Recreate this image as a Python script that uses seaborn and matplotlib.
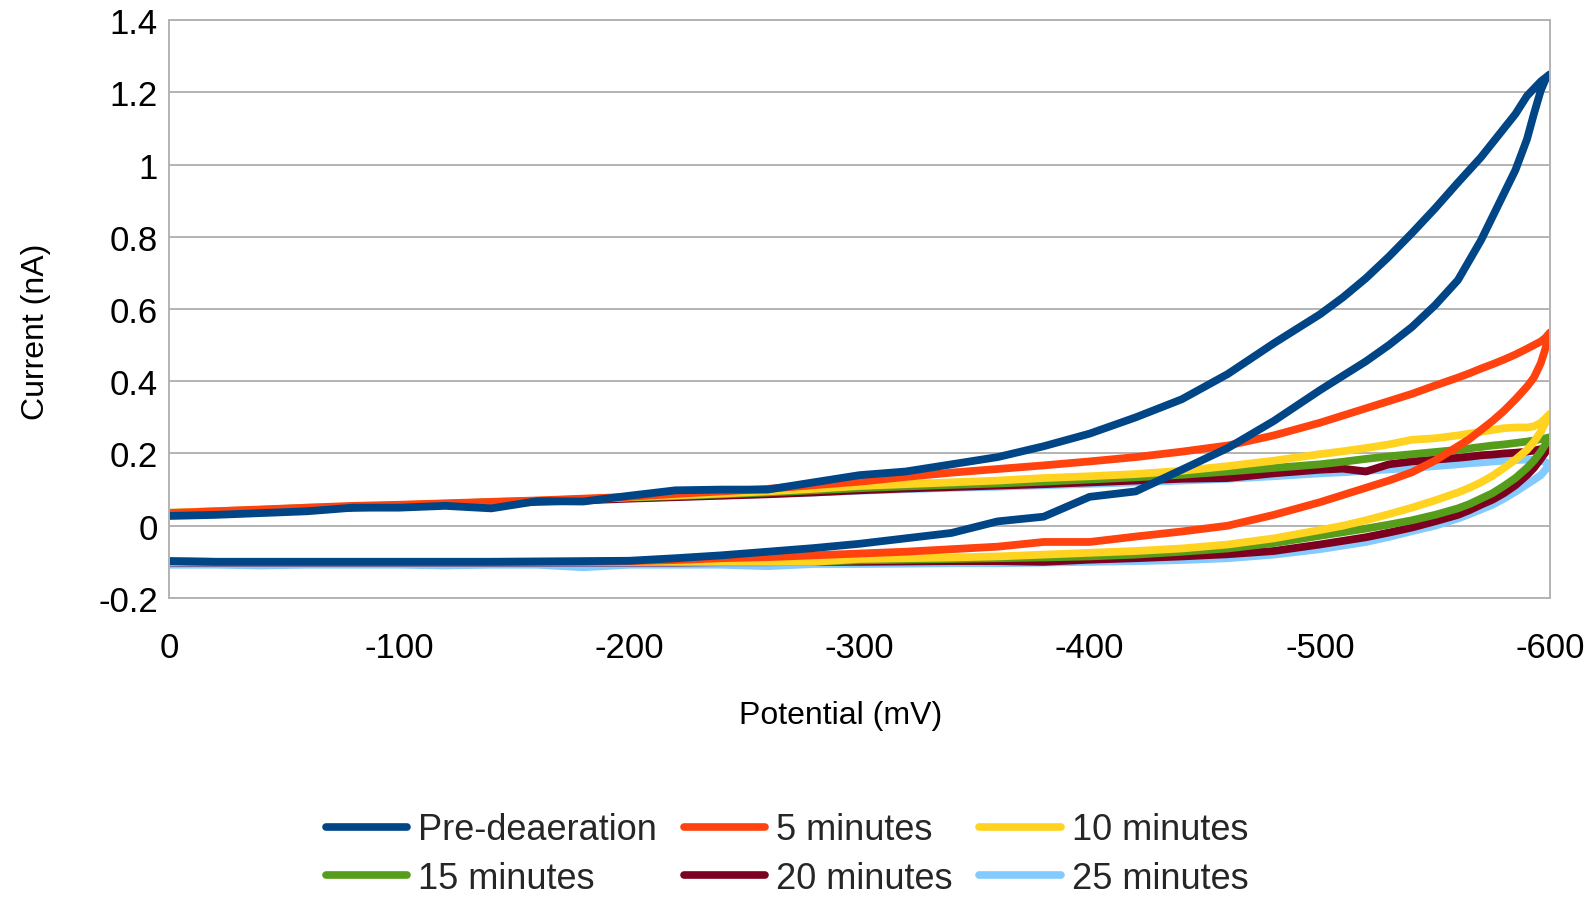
import matplotlib
matplotlib.use("Agg")
import matplotlib.pyplot as plt
import pandas as pd
import seaborn as sns
from matplotlib.lines import Line2D

# ---------------- data ----------------
potential = [0, -20, -40, -60, -80, -100, -120, -140, -160, -180, -200, -220, -240,
             -260, -280, -300, -320, -340, -360, -380, -400, -420, -440, -460, -480,
             -500, -510, -520, -530, -540, -550, -560, -565, -570, -575, -580, -585,
             -590, -593, -596, -598, -600]

series_names = ["Pre-deaeration", "5 minutes", "10 minutes",
                "15 minutes", "20 minutes", "25 minutes"]
series_colors = ["#004586", "#ff420e", "#ffd320", "#579d1c", "#7e0021", "#83caff"]

pre_upper = [0.027, 0.030, 0.035, 0.040, 0.050, 0.050, 0.055, 0.048, 0.068, 0.067, 0.083,
             0.098, 0.100, 0.100, 0.120, 0.140, 0.150, 0.170, 0.190, 0.220, 0.255, 0.300,
             0.350, 0.420, 0.505,
             0.585, 0.632, 0.685, 0.745, 0.810, 0.878, 0.950, 0.985, 1.020, 1.060, 1.100,
             1.140, 1.190, 1.210, 1.230, 1.240, 1.250]
pre_lower = [-0.098, -0.100, -0.100, -0.100, -0.100, -0.100, -0.100, -0.100, -0.099, -0.098,
             -0.097, -0.090, -0.082, -0.072, -0.062, -0.050, -0.035, -0.020, 0.012, 0.025,
             0.080, 0.095, 0.155, 0.215, 0.290,
             0.375, 0.415, 0.455, 0.500, 0.550, 0.610, 0.680, 0.735, 0.790, 0.855, 0.920,
             0.985, 1.070, 1.140, 1.205, 1.235, 1.250]

m5_upper = [0.035, 0.040, 0.045, 0.050, 0.055, 0.058, 0.062, 0.066, 0.070, 0.075, 0.080,
            0.088, 0.095, 0.102, 0.112, 0.122, 0.135, 0.147, 0.157, 0.167, 0.178, 0.190,
            0.205, 0.222, 0.250,
            0.285, 0.305, 0.325, 0.345, 0.365, 0.388, 0.410, 0.422, 0.435, 0.447, 0.460,
            0.474, 0.490, 0.500, 0.510, 0.520, 0.535]
m5_lower = [-0.098, -0.100, -0.100, -0.100, -0.100, -0.100, -0.100, -0.100, -0.100, -0.100,
            -0.098, -0.095, -0.090, -0.087, -0.082, -0.077, -0.072, -0.065, -0.058, -0.045,
            -0.045, -0.030, -0.016, 0.000, 0.030,
            0.065, 0.085, 0.105, 0.125, 0.148, 0.180, 0.220, 0.240, 0.265, 0.290, 0.318,
            0.350, 0.385, 0.410, 0.450, 0.490, 0.535]

m10_upper = [0.036, 0.040, 0.044, 0.049, 0.053, 0.057, 0.061, 0.065, 0.069, 0.074, 0.079,
             0.084, 0.089, 0.095, 0.102, 0.110, 0.115, 0.120, 0.125, 0.132, 0.137, 0.143,
             0.152, 0.165, 0.180,
             0.198, 0.206, 0.215, 0.225, 0.238, 0.242, 0.250, 0.255, 0.260, 0.265, 0.270,
             0.272, 0.272, 0.275, 0.285, 0.297, 0.310]
m10_lower = [-0.100, -0.100, -0.100, -0.100, -0.100, -0.100, -0.100, -0.100, -0.100, -0.100,
             -0.100, -0.100, -0.100, -0.100, -0.100, -0.092, -0.090, -0.088, -0.085, -0.080,
             -0.075, -0.070, -0.063, -0.052, -0.035,
             -0.012, 0.000, 0.015, 0.032, 0.050, 0.070, 0.092, 0.105, 0.120, 0.138, 0.160,
             0.183, 0.210, 0.232, 0.260, 0.285, 0.310]

m15_upper = [0.034, 0.039, 0.043, 0.048, 0.052, 0.056, 0.060, 0.064, 0.068, 0.073, 0.078,
             0.082, 0.087, 0.092, 0.098, 0.104, 0.109, 0.113, 0.117, 0.122, 0.128, 0.134,
             0.141, 0.150, 0.160,
             0.170, 0.177, 0.185, 0.192, 0.198, 0.204, 0.210, 0.214, 0.218, 0.222, 0.225,
             0.229, 0.233, 0.236, 0.240, 0.242, 0.245]
m15_lower = [-0.100, -0.100, -0.100, -0.100, -0.100, -0.100, -0.100, -0.100, -0.100, -0.100,
             -0.100, -0.100, -0.100, -0.100, -0.100, -0.096, -0.094, -0.092, -0.090, -0.088,
             -0.085, -0.080, -0.072, -0.063, -0.048,
             -0.028, -0.018, -0.008, 0.003, 0.015, 0.030, 0.048, 0.060, 0.075, 0.090, 0.110,
             0.132, 0.160, 0.180, 0.205, 0.225, 0.245]

m20_upper = [0.033, 0.037, 0.041, 0.046, 0.050, 0.054, 0.058, 0.062, 0.066, 0.070, 0.075,
             0.079, 0.083, 0.087, 0.092, 0.098, 0.103, 0.107, 0.111, 0.115, 0.120, 0.125,
             0.130, 0.132, 0.145,
             0.155, 0.158, 0.150, 0.170, 0.178, 0.183, 0.188, 0.191, 0.195, 0.197, 0.200,
             0.202, 0.205, 0.208, 0.212, 0.216, 0.220]
m20_lower = [-0.102, -0.102, -0.102, -0.102, -0.102, -0.102, -0.102, -0.102, -0.102, -0.102,
             -0.102, -0.102, -0.101, -0.101, -0.100, -0.100, -0.099, -0.098, -0.098, -0.100,
             -0.094, -0.090, -0.085, -0.079, -0.070,
             -0.052, -0.042, -0.032, -0.019, -0.005, 0.012, 0.030, 0.043, 0.058, 0.072, 0.090,
             0.112, 0.140, 0.160, 0.185, 0.203, 0.220]

m25_upper = [0.036, 0.040, 0.044, 0.050, 0.052, 0.056, 0.060, 0.066, 0.068, 0.072, 0.077,
             0.080, 0.084, 0.088, 0.092, 0.097, 0.101, 0.105, 0.108, 0.112, 0.116, 0.120,
             0.125, 0.130, 0.137,
             0.145, 0.148, 0.152, 0.156, 0.160, 0.165, 0.170, 0.173, 0.175, 0.178, 0.180,
             0.182, 0.183, 0.182, 0.180, 0.176, 0.170]
m25_lower = [-0.108, -0.108, -0.110, -0.108, -0.108, -0.108, -0.110, -0.108, -0.108, -0.115,
             -0.108, -0.108, -0.108, -0.112, -0.106, -0.106, -0.105, -0.104, -0.104, -0.102,
             -0.100, -0.098, -0.095, -0.090, -0.080,
             -0.065, -0.055, -0.045, -0.031, -0.015, 0.000, 0.020, 0.032, 0.045, 0.058, 0.075,
             0.094, 0.115, 0.127, 0.140, 0.155, 0.170]

upper_branches = [pre_upper, m5_upper, m10_upper, m15_upper, m20_upper, m25_upper]
lower_branches = [pre_lower, m5_lower, m10_lower, m15_lower, m20_lower, m25_lower]

x_ticks = [0, -100, -200, -300, -400, -500, -600]
x_tick_labels = ["0", "-100", "-200", "-300", "-400", "-500", "-600"]
y_ticks = [-0.2, 0.0, 0.2, 0.4, 0.6, 0.8, 1.0, 1.2, 1.4]
y_tick_labels = ["-0.2", "0", "0.2", "0.4", "0.6", "0.8", "1", "1.2", "1.4"]

for arr in upper_branches + lower_branches:
    assert len(arr) == len(potential), len(arr)

# ---------------- long table: scan 0 -> -600 (lower), back to 0 (upper) ---------
rows = []
for name, lo, up in zip(series_names, lower_branches, upper_branches):
    xs = potential + potential[::-1]
    ys = lo + up[::-1]
    for i, (xv, yv) in enumerate(zip(xs, ys)):
        rows.append({"Series": name, "step": i, "Potential": xv, "Current": yv})
df = pd.DataFrame(rows)

# ---------------- style ----------------
sns.set_style("white")
plt.rcParams["font.family"] = ["Liberation Sans", "DejaVu Sans"]
plt.rcParams["axes.unicode_minus"] = False

fig = plt.figure(figsize=(15.93, 9.03), dpi=100)
ax = fig.add_axes([0.1061, 0.3367, 0.8669, 0.640])

grid_col = "#b3b3b3"
ax.set_axisbelow(True)
ax.yaxis.grid(True, color=grid_col, lw=1.4)
ax.xaxis.grid(False)

# draw last series first so Pre-deaeration lies on top
for name, col in list(zip(series_names, series_colors))[::-1]:
    sub = df[df["Series"] == name]
    sns.lineplot(data=sub, x="Potential", y="Current", sort=False, estimator=None,
                 color=col, lw=5.6, ax=ax, legend=False,
                 solid_joinstyle="round", solid_capstyle="round")

ax.set_xlim(0, -600)
ax.set_ylim(-0.2, 1.4)
ax.set_xticks(x_ticks)
ax.set_xticklabels(x_tick_labels)
ax.set_yticks(y_ticks)
ax.set_yticklabels(y_tick_labels)
ax.tick_params(axis="x", length=0, pad=23.5, labelsize=25, colors="black")
ax.tick_params(axis="y", length=0, pad=8, labelsize=25, colors="black")

for sp in ax.spines.values():
    sp.set_visible(True)
    sp.set_color(grid_col)
    sp.set_linewidth(1.4)

ax.set_xlabel("Potential (mV)", fontsize=23, color="black")
ax.set_ylabel("Current (nA)", fontsize=23, color="black")
ax.xaxis.set_label_coords(0.486, -0.1765)
ax.yaxis.set_label_coords(-0.0858, 0.463)

# legend: row-wise order in 3 columns
order = [0, 3, 1, 4, 2, 5]
handles = [Line2D([0], [0], color=series_colors[i], lw=5.5) for i in order]
labels = [series_names[i] for i in order]
fig.legend(handles, labels, loc="center", bbox_to_anchor=(0.494, 0.053), ncol=3,
           frameon=False, fontsize=26, handlelength=2.25, handletextpad=0.3,
           columnspacing=0.75, labelspacing=0.38, borderpad=0, borderaxespad=0)

fig.savefig("out.png", dpi=100)
